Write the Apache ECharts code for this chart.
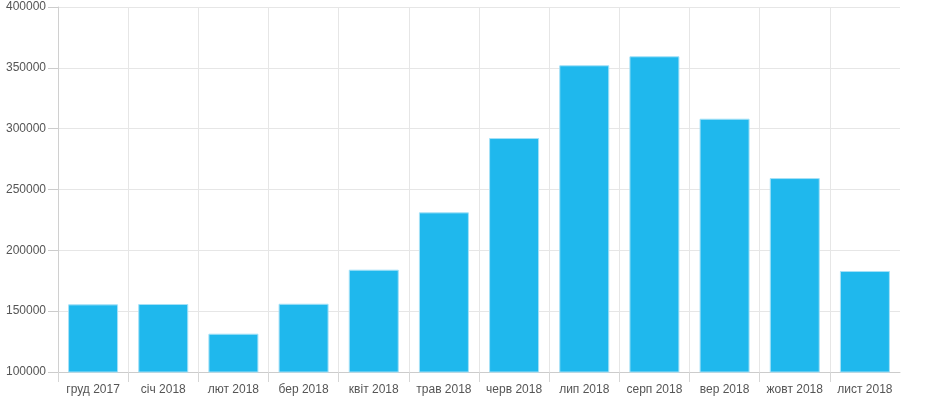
<!DOCTYPE html>
<html>
<head>
<meta charset="utf-8">
<script src="https://cdn.jsdelivr.net/npm/echarts@6/dist/echarts.min.js"></script>
<style>html,body{margin:0;padding:0;background:#fff}#c{width:930px;height:400px}</style>
</head>
<body>
<div id="c"></div>
<script>
const categories = ['груд 2017','січ 2018','лют 2018','бер 2018','квіт 2018','трав 2018','черв 2018','лип 2018','серп 2018','вер 2018','жовт 2018','лист 2018'];
const values = [155600, 155900, 131500, 156100, 184100, 231200, 292300, 352100, 359500, 308200, 259400, 183000];
const yMin = 100000, yMax = 400000, yStep = 50000;

const tickPositions = categories.map((c, i) => i);

const chart = echarts.init(document.getElementById('c'), null, {renderer:'canvas'});
chart.setOption({
  animation: false,
  textStyle: {fontFamily: 'Liberation Sans, Arial, sans-serif'},
  grid: {left: 58, right: 30, top: 7, bottom: 28, containLabel: false},
  xAxis: [{
    type: 'category',
    data: categories,
    boundaryGap: true,
    axisLine: {show: true, lineStyle: {color: '#cccccc'}},
    axisTick: {show: false},
    axisLabel: {color: '#555', fontSize: 12, margin: 12, interval: 0},
    splitLine: {show: true, showMaxLine: false, lineStyle: {color: '#e6e6e6'}}
  }, {
    type: 'value',
    position: 'bottom',
    min: 0, max: categories.length,
    axisLine: {show: false},
    axisTick: {show: true, length: 10, customValues: tickPositions, lineStyle: {color: '#d6d6d6'}},
    axisLabel: {show: false},
    splitLine: {show: false}
  }],
  yAxis: {
    type: 'value',
    min: yMin, max: yMax, interval: yStep,
    axisLine: {show: true, lineStyle: {color: '#d0d0d0'}},
    axisTick: {show: true, length: 10, lineStyle: {color: '#cccccc'}},
    axisLabel: {color: '#555', fontSize: 12, margin: 12, formatter: v => String(v)},
    splitLine: {show: true, lineStyle: {color: '#e6e6e6'}}
  },
  series: [{
    type: 'bar',
    xAxisIndex: 0,
    data: values,
    barWidth: 50,
    itemStyle: {color: '#1FB8ED', borderColor: '#A5E1F7', borderWidth: 1}
  }]
});
</script>
</body>
</html>
